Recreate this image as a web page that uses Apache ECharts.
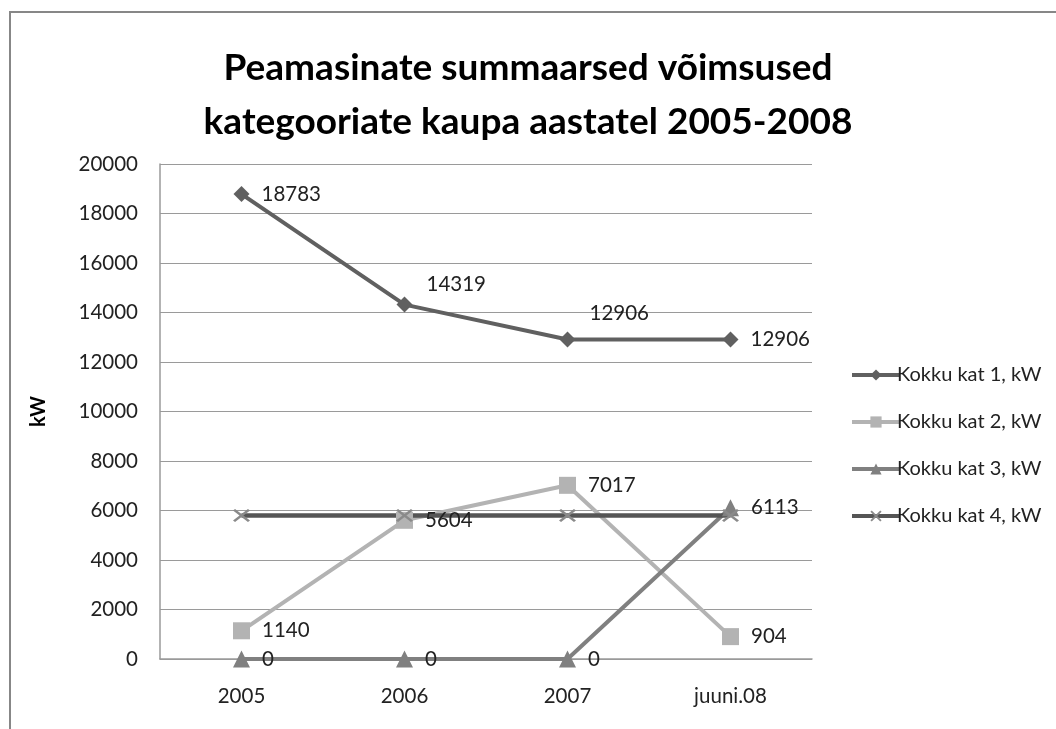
<!DOCTYPE html>
<html>
<head>
<meta charset="utf-8">
<script src="https://cdn.jsdelivr.net/npm/echarts@6/dist/echarts.min.js"></script>
<style>html,body{margin:0;padding:0;background:#fff}#c{width:1056px;height:729px}</style>
</head>
<body>
<div id="c"></div>
<script>
const categories = ['2005', '2006', '2007', 'juuni.08'];
const kat1 = [18783, 14319, 12906, 12906];
const kat2 = [1140, 5604, 7017, 904];
const kat3 = [0, 0, 0, 6113];
const kat4 = [5800, 5800, 5800, 5800];
const seriesNames = ['Kokku kat 1, kW', 'Kokku kat 2, kW', 'Kokku kat 3, kW', 'Kokku kat 4, kW'];
const yTicks = { min: 0, max: 20000, interval: 2000 };

const FONT = 'Lato';
const labelBase = { show: true, position: 'right', distance: 12, fontFamily: FONT, fontSize: 20.5, color: '#222' };
function withOffsets(values, offsets) {
  return values.map((v, i) => offsets[i] ? { value: v, label: { offset: offsets[i] } } : v);
}
const xSym = 'path://M0,1.2L1.2,0L10,8.8L8.8,10Z M8.8,0L10,1.2L1.2,10L0,8.8Z';

const chart = echarts.init(document.getElementById('c'));
chart.setOption({
  animation: false,
  backgroundColor: '#fff',
  graphic: [{ type: 'rect', shape: { x: 10, y: 12, width: 1200, height: 900 }, style: { fill: 'none', stroke: '#878787', lineWidth: 2 }, z: -1 }],
  title: {
    text: 'Peamasinate summaarsed võimsused\nkategooriate kaupa aastatel 2005-2008',
    left: 'center', top: 36,
    textStyle: { fontFamily: FONT, fontWeight: 'bold', fontSize: 37, lineHeight: 54, color: '#000' }
  },
  legend: {
    orient: 'vertical', left: 845, top: 360, itemWidth: 48, itemHeight: 14, itemGap: 27,
    lineStyle: { width: 4 },
    textStyle: { fontFamily: FONT, fontSize: 20, color: '#222', padding: [0, 0, 0, -8] },
    data: seriesNames
  },
  grid: { left: 160, right: 244, top: 164, bottom: 70 },
  xAxis: {
    type: 'category', data: categories, boundaryGap: true,
    axisLine: { lineStyle: { color: '#9a9a9a', width: 1.5 } },
    axisTick: { show: false },
    axisLabel: { fontFamily: FONT, fontSize: 20.5, color: '#222', margin: 27 }
  },
  yAxis: {
    type: 'value', min: yTicks.min, max: yTicks.max, interval: yTicks.interval,
    name: 'kW', nameLocation: 'middle', nameGap: 111, nameRotate: 90,
    nameTextStyle: { fontFamily: FONT, fontWeight: 'bold', fontSize: 20, color: '#000' },
    axisLine: { show: true, lineStyle: { color: '#9a9a9a', width: 1.5 } },
    axisTick: { show: false },
    splitLine: { lineStyle: { color: '#9a9a9a', width: 1 } },
    axisLabel: { fontFamily: FONT, fontSize: 20.5, color: '#222', margin: 22, formatter: v => String(v) }
  },
  series: [
    {
      name: seriesNames[0], type: 'line', data: withOffsets(kat1, [null, [2, -20], [2, -26], null]),
      symbol: 'diamond', symbolSize: 16,
      lineStyle: { color: '#606060', width: 4 }, itemStyle: { color: '#606060' },
      label: labelBase
    },
    {
      name: seriesNames[1], type: 'line', data: kat2,
      symbol: 'rect', symbolSize: 17,
      lineStyle: { color: '#b3b3b3', width: 4 }, itemStyle: { color: '#b3b3b3' },
      label: labelBase
    },
    {
      name: seriesNames[2], type: 'line', data: kat3,
      symbol: 'triangle', symbolSize: 17,
      lineStyle: { color: '#808080', width: 4 }, itemStyle: { color: '#808080' },
      label: labelBase
    },
    {
      name: seriesNames[3], type: 'line', data: kat4,
      symbol: xSym, symbolSize: [17, 13],
      lineStyle: { color: '#555555', width: 4.5 }, itemStyle: { color: '#8a8a8a' },
      label: { show: false }
    }
  ]
});
</script>
</body>
</html>
